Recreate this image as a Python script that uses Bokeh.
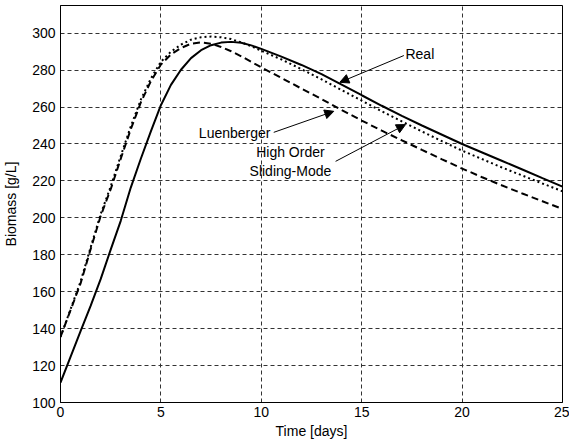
from bokeh.plotting import figure
from bokeh.models import Range1d, FixedTicker, Arrow, NormalHead, ColumnDataSource
from bokeh.core.properties import value
from bokeh.embed import file_html
from bokeh.resources import INLINE

# time grid [days]
t = [0, 0.5, 1, 1.5, 2, 2.5, 3, 3.5, 4, 4.5, 5, 5.5, 6, 6.5, 7, 7.5, 8, 8.5, 9, 9.5,
     10, 11, 12, 13, 14, 15, 16, 17, 18, 19, 20, 21, 22, 23, 24, 25]

real = [110.8, 124.7, 138.6, 152.3, 166.8, 182.8, 198.4, 216.4, 232.0, 246.8, 261.0, 272.0,
        280.2, 286.5, 290.8, 293.5, 294.9, 295.3, 294.8, 293.4,
        291.5, 287.3, 282.8, 277.8, 272.2, 266.4, 260.7, 255.2, 250.0, 245.0, 240.0, 235.4,
        230.8, 226.2, 221.5, 216.9]

luenberger = [135.5, 150.0, 164.5, 183.0, 201.0, 215.5, 232.0, 248.0, 262.5, 274.0, 283.0, 288.5,
              292.0, 294.3, 295.0, 294.3, 292.5, 290.2, 287.5, 284.5,
              281.5, 275.8, 270.0, 264.3, 258.4, 252.7, 247.2, 242.0, 236.8, 231.7, 226.7, 222.0,
              217.5, 213.2, 209.0, 204.8]

hosm = [135.5, 150.5, 165.5, 184.0, 202.0, 217.0, 233.5, 249.5, 264.0, 275.5, 284.5, 290.0,
        293.8, 296.5, 297.8, 298.2, 297.8, 296.8, 295.0, 293.0,
        290.5, 285.8, 280.5, 275.0, 269.2, 263.5, 257.7, 252.2, 246.8, 241.5, 236.4, 231.8,
        227.2, 222.9, 218.6, 214.4]

x_ticks = [0, 5, 10, 15, 20, 25]
y_ticks = [100, 120, 140, 160, 180, 200, 220, 240, 260, 280, 300]

# annotations: text positions and arrows (data coordinates)
label_text = ["Real", "Luenberger", "High Order", "Sliding-Mode"]
label_x = [17.18, 6.89, 11.45, 11.45]
label_y = [288.8, 245.8, 235.5, 225.2]
label_align = ["left", "left", "center", "center"]

arrow_x_start = [17.1, 10.62, 13.7]
arrow_y_start = [287.9, 246.3, 230.6]
arrow_x_end = [13.91, 13.61, 17.18]
arrow_y_end = [273.4, 257.7, 250.5]

FONT = "Liberation Sans"

p = figure(width=569, height=445, output_backend="svg", toolbar_location=None,
           x_range=Range1d(0, 25), y_range=Range1d(100, 315),
           min_border_left=60, min_border_right=7, min_border_top=5, min_border_bottom=43)

p.outline_line_color = "black"
p.outline_line_width = 1
p.background_fill_color = "white"
p.border_fill_color = "white"

for ax in (p.xaxis[0], p.yaxis[0]):
    ax.axis_line_color = "black"
    ax.major_tick_in = 0
    ax.major_tick_out = 0
    ax.minor_tick_line_color = None
    ax.major_label_text_font = FONT
    ax.major_label_text_font_size = "14px"
    ax.major_label_text_color = "black"
    ax.axis_label_text_font = FONT
    ax.axis_label_text_font_size = "14px"
    ax.axis_label_text_font_style = "normal"
    ax.axis_label_text_color = "black"

p.xaxis[0].ticker = FixedTicker(ticks=x_ticks)
p.yaxis[0].ticker = FixedTicker(ticks=y_ticks)
p.xaxis[0].axis_label = "Time [days]"
p.yaxis[0].axis_label = "Biomass [g/L]"
p.xaxis[0].major_label_standoff = 4
p.xaxis[0].axis_label_standoff = 3
p.yaxis[0].major_label_standoff = 5
p.yaxis[0].axis_label_standoff = 10

p.xgrid.ticker = FixedTicker(ticks=x_ticks)
p.ygrid.ticker = FixedTicker(ticks=y_ticks)
for g in (p.xgrid, p.ygrid):
    g.grid_line_color = "#333333"
    g.grid_line_dash = "4 3"
    g.grid_line_width = 1

src = ColumnDataSource(dict(t=t, real=real, luen=luenberger, hosm=hosm))
p.line("t", "luen", source=src, line_color="black", line_width=2, line_dash="7 4")
p.line("t", "hosm", source=src, line_color="black", line_width=2, line_dash="2 3")
p.line("t", "real", source=src, line_color="black", line_width=2)

for xs, ys, xe, ye in zip(arrow_x_start, arrow_y_start, arrow_x_end, arrow_y_end):
    p.add_layout(Arrow(end=NormalHead(size=9, fill_color="black", line_color="black", line_width=1),
                       x_start=xs, y_start=ys, x_end=xe, y_end=ye,
                       line_color="black", line_width=1))

lab = ColumnDataSource(dict(x=label_x, y=label_y, text=label_text, align=label_align))
p.text("x", "y", text="text", source=lab, text_align="align", text_baseline="middle",
       text_font=value(FONT), text_font_size="14px", text_color="black")

open("out.html", "w").write(file_html(p, INLINE))
